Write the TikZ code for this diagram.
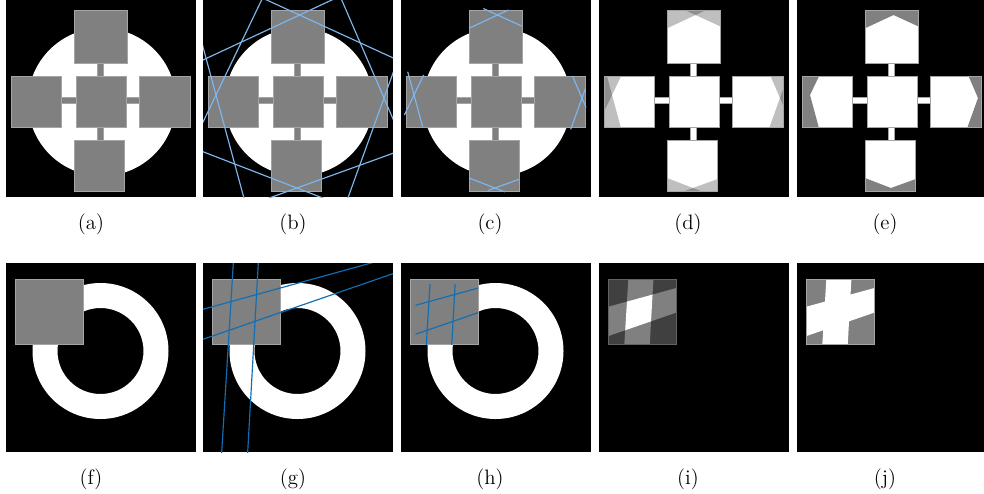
\documentclass[tikz,border=0pt]{standalone}
\usetikzlibrary{calc}
\definecolor{sqgray}{RGB}{128,128,128}
\definecolor{sqedge}{RGB}{165,165,165}
\definecolor{lblue}{RGB}{125,182,236}
\definecolor{dblue}{RGB}{16,110,180}
\definecolor{dkgray}{RGB}{64,64,64}
\newcommand\crossparts[2]{%
  \path[#2] (91.5,60) rectangle (97,80);
  \path[#2] (91.5,124) rectangle (97,143);
  \path[#2] (52,97.5) rectangle (73,103.5);
  \path[#2] (117,97.5) rectangle (136,103.5);
  \path[#1] (68,10) rectangle (121,63);
  \path[#1] (70,76) rectangle (120,127);
  \path[#1] (5,76) rectangle (55,127);
  \path[#1] (133,76) rectangle (184,127);
  \path[#1] (68,140) rectangle (118,191);
}
\newcommand\outeredges{%
  \draw[sqedge,line width=0.6pt] (68,10) rectangle (121,63);
  \draw[sqedge,line width=0.6pt] (70,76) rectangle (120,127);
  \draw[sqedge,line width=0.6pt] (5,76) rectangle (55,127);
  \draw[sqedge,line width=0.6pt] (133,76) rectangle (184,127);
  \draw[sqedge,line width=0.6pt] (68,140) rectangle (118,191);
}
\newcommand\segcoords{%
  \coordinate (t1a) at (82.3,8.5);   \coordinate (t1b) at (120.7,26.1);
  \coordinate (t2a) at (107.3,10);   \coordinate (t2b) at (68,28.3);
  \coordinate (l1a) at (6.7,71.7);   \coordinate (l1b) at (21.6,126.7);
  \coordinate (l2a) at (22.6,75);    \coordinate (l2b) at (3.4,115);
  \coordinate (r1a) at (171.5,76);   \coordinate (r1b) at (185,107.3);
  \coordinate (r2a) at (184.5,88.3); \coordinate (r2b) at (169.7,129.3);
  \coordinate (b1a) at (68,178);     \coordinate (b1b) at (104,191.9);
  \coordinate (b2a) at (118,179.3);  \coordinate (b2b) at (87.3,190.4);
}
\newcommand\longline[2]{\draw[bline] ($(#1)!-8!(#2)$) -- ($(#1)!9!(#2)$);}
\newcommand\seg[2]{\draw[bline] (#1) -- (#2);}
\newcommand\hp[4]{\fill[#4] ($(#1)!-8!(#2)$) -- ($(#1)!9!(#2)$) -- ($(#1)!9!(#2)+(#3)$) -- ($(#1)!-8!(#2)+(#3)$) -- cycle;}
\newcommand\shadeouter[1]{%
  \begin{scope}\clip (68,10) rectangle (121,63); \hp{t1a}{t1b}{0,-400}{#1}\hp{t2a}{t2b}{0,-400}{#1}\end{scope}
  \begin{scope}\clip (5,76) rectangle (55,127); \hp{l1a}{l1b}{-400,0}{#1}\hp{l2a}{l2b}{-400,0}{#1}\end{scope}
  \begin{scope}\clip (133,76) rectangle (184,127); \hp{r1a}{r1b}{400,0}{#1}\hp{r2a}{r2b}{400,0}{#1}\end{scope}
  \begin{scope}\clip (68,140) rectangle (118,191); \hp{b1a}{b1b}{0,400}{#1}\hp{b2a}{b2b}{0,400}{#1}\end{scope}
}
\newcommand\rowtwocoords{%
  \coordinate (va1) at (30.3,263.3); \coordinate (va2) at (18.7,452);
  \coordinate (vb1) at (55.3,263.3); \coordinate (vb2) at (44.7,452);
  \coordinate (hc1) at (0,309.3);    \coordinate (hc2) at (167,263.3);
  \coordinate (hd1) at (0,339.3);    \coordinate (hd2) at (191,273.3);
}
\newcommand\vband{($(va1)!-1!(va2)$) -- ($(va1)!2!(va2)$) -- ($(vb1)!2!(vb2)$) -- ($(vb1)!-1!(vb2)$) -- cycle}
\newcommand\hband{($(hc1)!-1!(hc2)$) -- ($(hc1)!2!(hc2)$) -- ($(hd1)!2!(hd2)$) -- ($(hd1)!-1!(hd2)$) -- cycle}
\begin{document}
\begin{tikzpicture}[x=0.6pt,y=-0.6pt,
  sq/.style={fill=sqgray,draw=sqedge,line width=0.6pt},
  wsq/.style={fill=white,draw=sqedge,line width=0.6pt},
  bline/.style={draw=lblue,line width=0.7pt},
  dline/.style={draw=dblue,line width=0.7pt},
  captext/.style={font=\fontsize{12.5}{14}\selectfont,anchor=base,inner sep=0pt}]
\useasboundingbox (0,0) rectangle (984,493);
\fill[white] (0,0) rectangle (984,493);
% ---------- row 1 ----------
% (a)
\begin{scope}[shift={(6,0)}]
  \fill[black] (0,0) rectangle (190,197);
  \fill[white] (96,102) circle[radius=74];
  \crossparts{sq}{sq}
\end{scope}
% (b)
\begin{scope}[shift={(203,0)}]
  \fill[black] (0,0) rectangle (190,197);
  \fill[white] (96,102) circle[radius=74];
  \crossparts{sq}{sq}
  \segcoords
  \begin{scope}
    \clip (0,0) rectangle (190,197);
    \longline{t1a}{t1b}\longline{t2a}{t2b}
    \longline{l1a}{l1b}\longline{l2a}{l2b}
    \longline{r1a}{r1b}\longline{r2a}{r2b}
    \longline{b1a}{b1b}\longline{b2a}{b2b}
  \end{scope}
\end{scope}
% (c)
\begin{scope}[shift={(401,0)}]
  \fill[black] (0,0) rectangle (190,197);
  \fill[white] (96,102) circle[radius=74];
  \crossparts{sq}{sq}
  \segcoords
  \seg{t1a}{t1b}\seg{t2a}{t2b}
  \seg{l1a}{l1b}\seg{l2a}{l2b}
  \seg{r1a}{r1b}\seg{r2a}{r2b}
  \seg{b1a}{b1b}\seg{b2a}{b2b}
\end{scope}
% (d)
\begin{scope}[shift={(599,0)}]
  \fill[black] (0,0) rectangle (190,197);
  \crossparts{wsq}{wsq}
  \segcoords
  \shadeouter{black,opacity=0.25}
  \outeredges
\end{scope}
% (e)
\begin{scope}[shift={(797,0)}]
  \fill[black] (0,0) rectangle (187,197);
  \crossparts{wsq}{wsq}
  \segcoords
  \shadeouter{sqgray}
  \outeredges
\end{scope}
% ---------- row 2 ----------
% (f)
\begin{scope}[shift={(6,0)}]
  \fill[black] (0,263) rectangle (190,452);
  \fill[white,even odd rule] (94.5,351) circle[radius=68] (94.5,351) circle[radius=43];
  \path[sq] (9,279) rectangle (77,344);
\end{scope}
% (g)
\begin{scope}[shift={(203,0)}]
  \fill[black] (0,263) rectangle (190,452);
  \fill[white,even odd rule] (94.5,351) circle[radius=68] (94.5,351) circle[radius=43];
  \path[sq] (9,279) rectangle (77,344);
  \rowtwocoords
  \begin{scope}
    \clip (0,263) rectangle (190,452);
    \draw[dline] ($(va1)!-1!(va2)$) -- ($(va1)!2!(va2)$);
    \draw[dline] ($(vb1)!-1!(vb2)$) -- ($(vb1)!2!(vb2)$);
    \draw[dline] ($(hc1)!-1!(hc2)$) -- ($(hc1)!2!(hc2)$);
    \draw[dline] ($(hd1)!-1!(hd2)$) -- ($(hd1)!2!(hd2)$);
  \end{scope}
\end{scope}
% (h)
\begin{scope}[shift={(401,0)}]
  \fill[black] (0,263) rectangle (190,452);
  \fill[white,even odd rule] (94.5,351) circle[radius=68] (94.5,351) circle[radius=43];
  \path[sq] (9,279) rectangle (77,344);
  \rowtwocoords
  \begin{scope}
    \clip (14.7,284.3) rectangle (77,344);
    \draw[dline] (va1) -- (va2);
    \draw[dline] (vb1) -- (vb2);
    \draw[dline] (hc1) -- (hc2);
    \draw[dline] (hd1) -- (hd2);
  \end{scope}
\end{scope}
% (i)
\begin{scope}[shift={(599,0)}]
  \fill[black] (0,263) rectangle (190,452);
  \rowtwocoords
  \fill[dkgray] (9,279) rectangle (77,344);
  \begin{scope}
    \clip (9,279) rectangle (77,344);
    \fill[sqgray] \vband;
    \fill[sqgray] \hband;
    \clip \vband;
    \fill[white] \hband;
  \end{scope}
  \draw[sqedge!60!black,line width=0.6pt] (9,279) rectangle (77,344);
\end{scope}
% (j)
\begin{scope}[shift={(797,0)}]
  \fill[black] (0,263) rectangle (187,452);
  \rowtwocoords
  \fill[sqgray] (9,279) rectangle (77,344);
  \begin{scope}
    \clip (9,279) rectangle (77,344);
    \fill[white] \vband;
    \fill[white] \hband;
  \end{scope}
  \draw[sqedge,line width=0.6pt] (9,279) rectangle (77,344);
\end{scope}
% ---------- captions ----------
\node[captext] (capa) at (91,229) {(a)};
\node[captext] (capb) at (293,229) {(b)};
\node[captext] (capc) at (490,229) {(c)};
\node[captext] (capd) at (688,229) {(d)};
\node[captext] (cape) at (885,229) {(e)};
\node[captext] (capf) at (91,484) {(f)};
\node[captext] (capg) at (293,484) {(g)};
\node[captext] (caph) at (490,484) {(h)};
\node[captext] (capi) at (688,484) {(i)};
\node[captext] (capj) at (885,484) {(j)};
\end{tikzpicture}
\end{document}
